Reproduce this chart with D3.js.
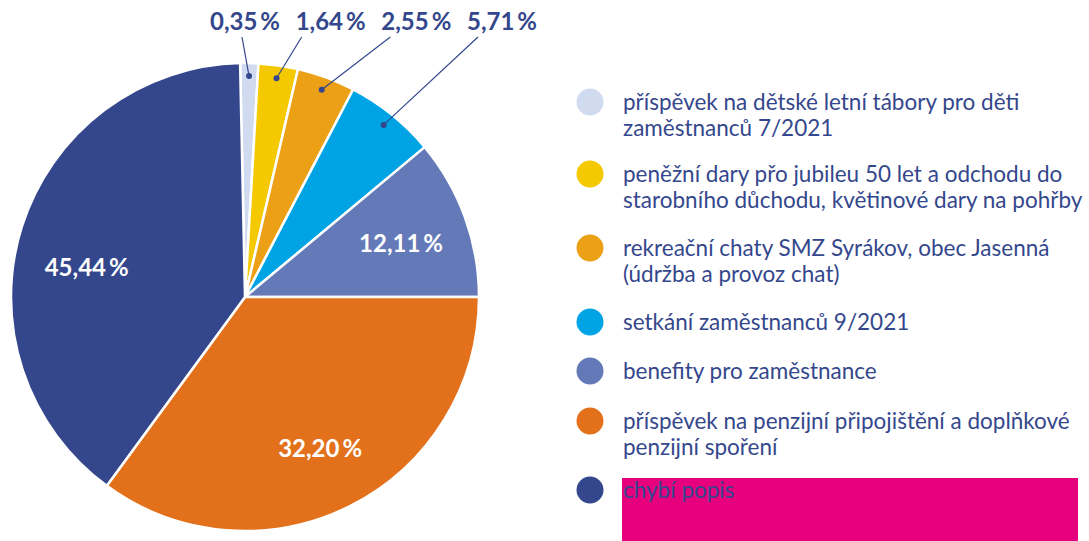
<!DOCTYPE html>
<html>
<head>
<meta charset="utf-8">
<script src="https://cdn.jsdelivr.net/npm/d3@7"></script>
<style>
  html, body { margin: 0; padding: 0; background: #fff; }
  svg { display: block; font-family: Lato, "Open Sans", sans-serif; }
</style>
</head>
<body>
<svg width="1089" height="541"></svg>
<script>
// categories (legend lines)
const categories = [
  ["příspěvek na dětské letní tábory pro děti", "zaměstnanců 7/2021"],
  ["peněžní dary přo jubileu 50 let a odchodu do", "starobního důchodu, květinové dary na pohřby"],
  ["rekreační chaty SMZ Syrákov, obec Jasenná", "(údržba a provoz chat)"],
  ["setkání zaměstnanců 9/2021"],
  ["benefity pro zaměstnance"],
  ["příspěvek na penzijní připojištění a doplňkové", "penzijní spoření"],
  ["chybí popis"]
];
// slice shares as drawn in the picture (angles), and the printed labels
const shares = [1.25, 2.72, 4.01, 6.29, 11.06, 35.06, 39.61];
const pctLabels = ["0,35\u2009%", "1,64\u2009%", "2,55\u2009%", "5,71\u2009%", "12,11\u2009%", "32,20\u2009%", "45,44\u2009%"];
const colors = ["#d0dbf0", "#f5c900", "#eba015", "#00a3e4", "#6479b8", "#e3711c", "#34478c"];

/*
 * Layout constants
 */
const CX = 245, CY = 297, R = 234;
const TEXT_COLOR = "#34478c";
const START = -1.2 * Math.PI / 180;
const OUTSIDE_COUNT = 4;

const svg = d3.select("svg");
const g = svg.append("g").attr("transform", `translate(${CX},${CY})`);

const pie = d3.pie().sort(null).value(d => d)
  .startAngle(START).endAngle(START + 2 * Math.PI);
const arcs = pie(shares);
const arc = d3.arc().innerRadius(0).outerRadius(R);

g.selectAll("path.slice")
  .data(arcs)
  .enter().append("path")
  .attr("class", "slice")
  .attr("d", arc)
  .attr("fill", (d, i) => colors[i])
  .attr("stroke", "#fff")
  .attr("stroke-width", 2.5)
  .attr("stroke-linejoin", "round");

// inside labels (small vertical nudges like the original)
const inArc = d3.arc().innerRadius(166).outerRadius(166);
const insideNudge = [3, 4, 21];
g.selectAll("text.inside")
  .data(arcs.slice(OUTSIDE_COUNT))
  .enter().append("text")
  .attr("class", "inside")
  .attr("x", d => inArc.centroid(d)[0])
  .attr("y", (d, i) => inArc.centroid(d)[1] + insideNudge[i])
  .attr("dy", "0.35em")
  .attr("text-anchor", "middle")
  .attr("fill", "#fff")
  .attr("font-weight", "bold")
  .attr("font-size", 24)
  .text((d, i) => pctLabels[i + OUTSIDE_COUNT]);

// outside labels with leader lines
const dotArc = d3.arc().innerRadius(221).outerRadius(221);
const labelX = d3.scaleLinear().domain([0, OUTSIDE_COUNT - 1]).range([245, 502]);
const leaderOffset = [-3, -29, -26, -24];
const LABEL_Y = 30;

arcs.slice(0, OUTSIDE_COUNT).forEach((d, i) => {
  const p = dotArc.centroid(d);
  const lx = labelX(i) - CX;
  const ly = LABEL_Y - CY;
  g.append("line")
    .attr("x1", lx + leaderOffset[i])
    .attr("y1", ly + 7)
    .attr("x2", p[0])
    .attr("y2", p[1])
    .attr("stroke", TEXT_COLOR)
    .attr("stroke-width", 1.2);
  g.append("circle")
    .attr("cx", p[0])
    .attr("cy", p[1])
    .attr("r", 3)
    .attr("fill", TEXT_COLOR);
  g.append("text")
    .attr("x", lx)
    .attr("y", ly)
    .attr("text-anchor", "middle")
    .attr("fill", TEXT_COLOR)
    .attr("font-weight", "bold")
    .attr("font-size", 24)
    .text(pctLabels[i]);
});

// legend
const legendY = [102, 174, 248, 322, 371, 421, 490];
const LEG_DOT_X = 590, LEG_TEXT_X = 623, LINE_H = 26;

// pink box behind the last entry
svg.append("rect")
  .attr("x", 622)
  .attr("y", 478)
  .attr("width", 456)
  .attr("height", 63)
  .attr("fill", "#e6007e");

const legend = svg.append("g");
categories.forEach((lines, i) => {
  legend.append("circle")
    .attr("cx", LEG_DOT_X)
    .attr("cy", legendY[i])
    .attr("r", 13.5)
    .attr("fill", colors[i]);
  const t = legend.append("text")
    .attr("x", LEG_TEXT_X)
    .attr("y", legendY[i] + 8)
    .attr("fill", TEXT_COLOR)
    .attr("font-size", 22.5);
  lines.forEach((ln, j) => {
    t.append("tspan")
      .attr("x", LEG_TEXT_X)
      .attr("dy", j === 0 ? 0 : LINE_H)
      .text(ln);
  });
});
</script>
</body>
</html>
